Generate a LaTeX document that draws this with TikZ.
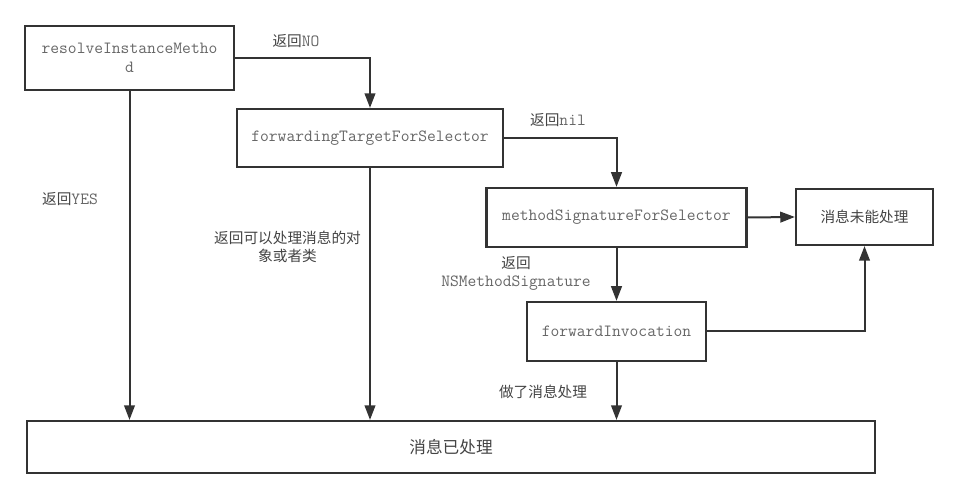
\documentclass[tikz,border=0pt]{standalone}
\usepackage{fontspec}
\newfontfamily\cjk{Noto Sans CJK SC}
\usepackage{tikz}
\usetikzlibrary{arrows.meta}
\definecolor{edge}{HTML}{333333}
\definecolor{code}{HTML}{666666}
\definecolor{note}{HTML}{444444}

\begin{document}
\begin{tikzpicture}[x=0.75pt,y=-0.75pt,
  box/.style={draw=edge,line width=1.6pt,inner sep=0pt,align=center,text=code,
    font=\ttfamily\fontsize{12.8}{14}\selectfont},
  cnbox/.style={box,text=note,font=\cjk\fontsize{11}{13.5}\selectfont},
  flow/.style={draw=edge,line width=1.5pt,-{Triangle[length=11pt,width=8pt]}},
  lbl/.style={inner sep=0pt,align=center,text=note,font=\cjk\fontsize{11}{13.5}\selectfont}]
\useasboundingbox (0,0) rectangle (957,498);
% boxes
\node[box,minimum width=156.8pt,minimum height=48pt] (resolve) at (129.5,58) {resolveInstanceMetho\\d};
\node[box,minimum width=199.5pt,minimum height=43.5pt] (fwdtarget) at (370,138) {forwardingTargetForSelector};
\node[box,minimum width=195pt,minimum height=44.3pt] (methodsig) at (616.5,217.5) {methodSignatureForSelector};
\node[cnbox,minimum width=102.8pt,minimum height=42pt] (unhandled) at (864.5,217) {消息未能处理};
\node[box,minimum width=134.3pt,minimum height=44.3pt] (invocation) at (616.5,331.5) {forwardInvocation};
\node[cnbox,minimum width=636pt,minimum height=39pt,font=\cjk\fontsize{12.5}{15}\selectfont] (done) at (451,447) {消息已处理};
% labels
\node[lbl] (lno) at (296,41) {返回{\color{code}\ttfamily\fontsize{12.8}{13.5}\selectfont NO}};
\node[lbl] (lnil) at (558,120) {返回{\color{code}\ttfamily\fontsize{12.8}{13.5}\selectfont nil}};
\node[lbl] (lyes) at (70,199) {返回{\color{code}\ttfamily\fontsize{12.8}{13.5}\selectfont YES}};
\node[lbl] (lobj) at (287.5,247) {返回可以处理消息的对\\象或者类};
\node[lbl] (lsig) at (516,273) {返回\\{\color{code}\ttfamily\fontsize{12.8}{13.5}\selectfont NSMethodSignature}};
\node[lbl] (ldone) at (543,392) {做了消息处理};
% connectors
\draw[flow] (resolve.east) -| (fwdtarget.north);
\draw[flow] (fwdtarget.east) -| (methodsig.north);
\draw[flow] (methodsig.east) -- (unhandled.west);
\draw[flow] (methodsig.south) -- (invocation.north);
\draw[flow] (invocation.east) -| (unhandled.south);
\draw[flow] (resolve.south) -- (resolve.south |- done.north);
\draw[flow] (fwdtarget.south) -- (fwdtarget.south |- done.north);
\draw[flow] (invocation.south) -- (invocation.south |- done.north);
\end{tikzpicture}
\end{document}
